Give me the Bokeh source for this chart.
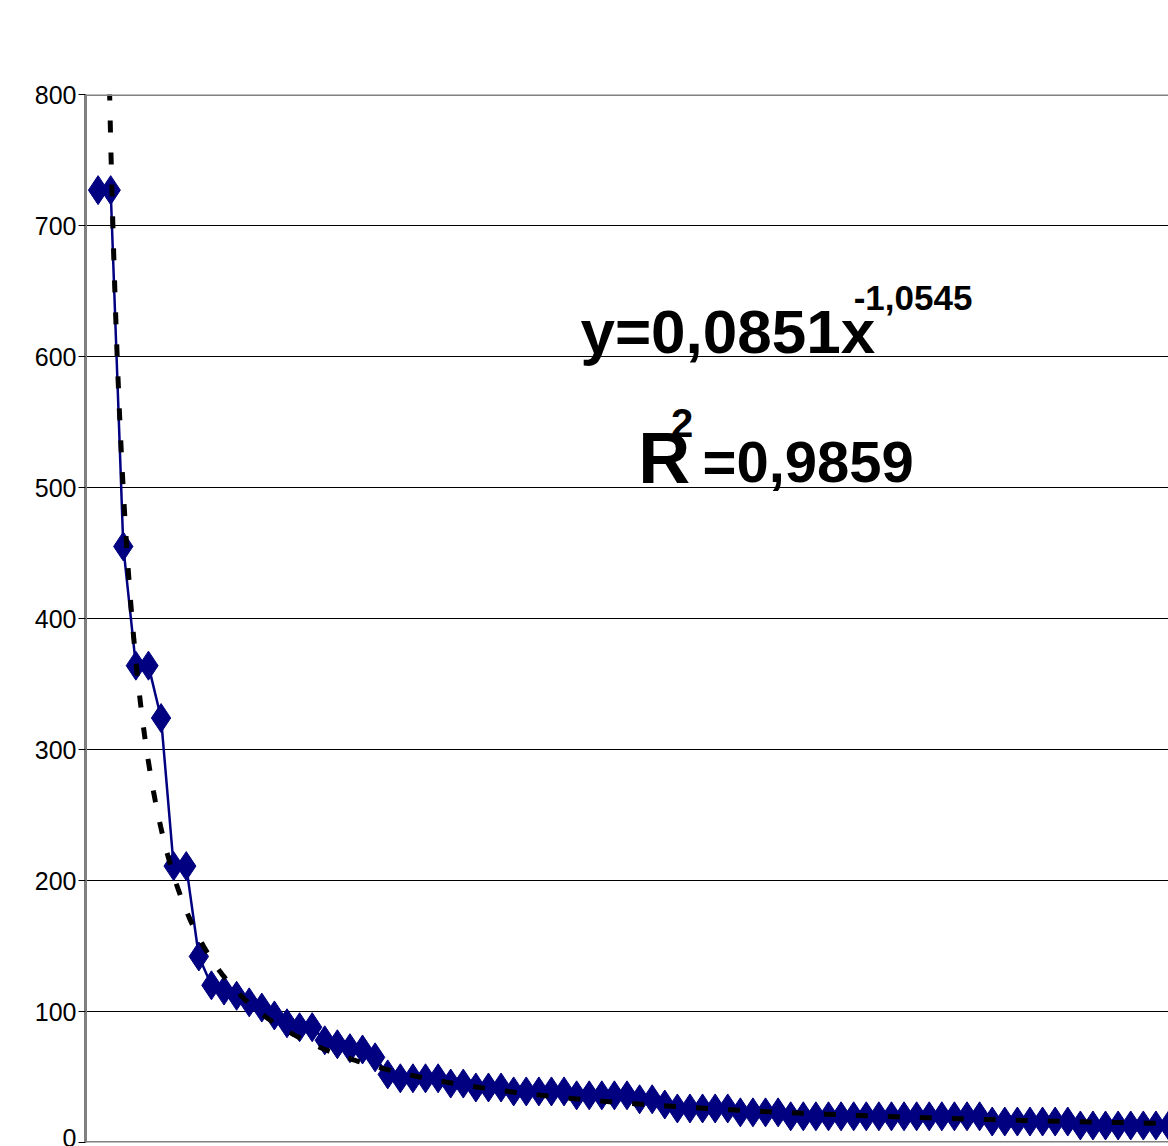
import numpy as np
from bokeh.plotting import figure
from bokeh.models import Range1d, FixedTicker, Span, Label
from bokeh.embed import file_html
from bokeh.resources import INLINE

# ---- data ----
rank = list(range(1, 87))
share = [727, 727, 455, 364, 364, 324, 211, 211, 142, 120,
         116, 112, 107, 103, 97, 91, 88, 88, 78, 75,
         72, 71, 65, 52, 49, 49, 49, 49, 45, 45,
         42, 42, 42, 39, 39, 39, 39, 39, 36, 36,
         36, 36, 36, 33, 33, 29, 26, 26, 26, 26,
         26, 23, 23, 23, 23, 20, 20, 20, 20, 20,
         20, 20, 20, 20, 20, 20, 20, 20, 20, 20,
         20, 16, 16, 16, 16, 16, 16, 16, 13, 13,
         13, 13, 13, 13, 13, 13]
y_ticks = [0, 100, 200, 300, 400, 500, 600, 700, 800]
trend_exponent = -1.0545          # from the chart's label
eq_text = "y=0,0851x"
eq_sup = "-1,0545"
r2_main = "R"
r2_sup = "2"
r2_value = "=0,9859"

# ---- power trend line: fixed exponent, coefficient fitted in log space ----
xr = np.array(rank, dtype=float)
yr = np.array(share, dtype=float)
coef = np.exp(np.mean(np.log(yr) - trend_exponent * np.log(xr)))
tx = np.linspace(xr.min(), xr.max(), 600)
ty = coef * tx ** trend_exponent

NAVY = "#000080"
FONT = "Liberation Sans"

p = figure(width=1168, height=1146,
           x_range=Range1d(0, 86), y_range=Range1d(0, 800),
           x_axis_location=None,
           output_backend="svg", toolbar_location=None,
           min_border_left=85, min_border_top=94,
           min_border_bottom=4, min_border_right=0)
p.outline_line_color = None
p.background_fill_color = "white"
p.border_fill_color = "white"

for g in p.xgrid:
    g.visible = False
p.ygrid.grid_line_color = "black"
p.ygrid.grid_line_width = 1
p.ygrid.ticker = FixedTicker(ticks=y_ticks)

ax = p.yaxis[0]
ax.ticker = FixedTicker(ticks=y_ticks)
ax.axis_line_color = "#808080"
ax.axis_line_width = 3
ax.major_tick_line_color = "black"
ax.major_tick_out = 7
ax.major_tick_in = 0
ax.minor_tick_line_color = None
ax.major_label_text_font = FONT
ax.major_label_text_font_size = "25px"
ax.major_label_text_color = "black"
ax.major_label_standoff = 2

# plot-area borders
p.add_layout(Span(location=800, dimension="width", line_color="#808080", line_width=3))
p.add_layout(Span(location=0, dimension="width", line_color="#808080", line_width=3))

# series
p.line(rank, share, line_color=NAVY, line_width=2.5)
p.scatter(rank, share, marker="diamond", size=29, fill_color=NAVY, line_color=NAVY)

# trend line
p.line(tx, ty, line_color="black", line_width=5, line_dash="12 20")

# equation texts
def lab(x, y, t, size):
    p.add_layout(Label(x=x, y=y, text=t, text_font=FONT, text_font_size=size,
                       text_font_style="bold", text_color="black",
                       text_align="left", text_baseline="alphabetic"))

lab(39.3, 619.1, eq_text, "62px")
lab(61.0, 644.3, eq_sup, "35px")
lab(43.9, 522.9, r2_main, "72px")
lab(46.5, 548.9, r2_sup, "40px")
lab(49.0, 520.0, r2_value, "58px")

open("out.html", "w").write(file_html(p, INLINE))
